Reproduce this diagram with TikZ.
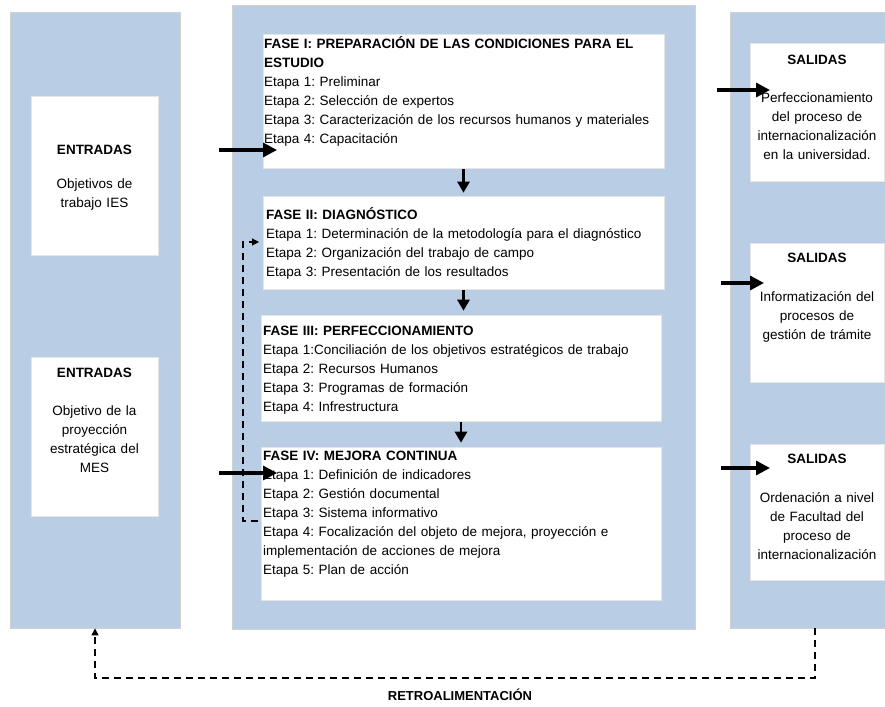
\documentclass[tikz,border=0pt]{standalone}
\usepackage{fontspec}
\setmainfont{Liberation Sans}
\usetikzlibrary{arrows.meta}
\definecolor{colblue}{HTML}{B9CDE5}
\frenchspacing
\begin{document}
\begin{tikzpicture}[x=1pt,y=-1pt,
 every node/.style={font=\fontsize{13.5}{19}\selectfont, inner sep=0pt},
 col/.style={draw=black!18, line width=0.8pt, fill=colblue, rectangle},
 wbox/.style={fill=white, draw=white!90!black, line width=0.6pt, rectangle},
 ftext/.style={anchor=base west, text width=398pt, align=left},
 ctext/.style={anchor=base, text width=150pt, align=center},
 bigarr/.style={line width=3.2pt, -{Triangle[length=14pt,width=14pt]}},
 darr/.style={line width=2.6pt, -{Triangle[length=11pt,width=12pt]}},
 dasharr/.style={line width=1.1pt, dash pattern=on 7pt off 5pt, -{Triangle[length=7pt,width=7pt]}}
]
\useasboundingbox (0,0) rectangle (885,706);

% columns
\node[col, minimum width=170pt, minimum height=616pt] (lcol) at (95,320) {};
\node[col, minimum width=463pt, minimum height=624pt] (mcol) at (463.5,317) {};
\node[col, minimum width=155pt, minimum height=616pt] (rcol) at (807.5,320) {};

% white boxes
\node[wbox, minimum width=127pt, minimum height=159pt] (e1) at (94.5,175.5) {};
\node[wbox, minimum width=127pt, minimum height=159pt] (e2) at (94.5,436.5) {};
\node[wbox, minimum width=401pt, minimum height=134pt] (f1) at (463.5,101) {};
\node[wbox, minimum width=401pt, minimum height=93pt] (f2) at (463.5,242.5) {};
\node[wbox, minimum width=400pt, minimum height=106pt] (f3) at (461,368) {};
\node[wbox, minimum width=400pt, minimum height=153pt] (f4) at (461,523.5) {};
\node[wbox, minimum width=134pt, minimum height=138pt] (s1) at (817,112) {};
\node[wbox, minimum width=134pt, minimum height=139pt] (s2) at (817,312.5) {};
\node[wbox, minimum width=134pt, minimum height=136pt] (s3) at (817,512) {};

% texts
\node[ctext] (e1t) at (94.5,154) {\textbf{ENTRADAS}\\[15pt]Objetivos de\\trabajo IES};
\node[ctext] (e2t) at (94.5,377) {\textbf{ENTRADAS}\\[19pt]Objetivo de la\\proyección\\estratégica del\\MES};

\node[ftext] (f1t) at (264,49) {\textbf{FASE I: PREPARACIÓN DE LAS CONDICIONES PARA EL}\\\textbf{ESTUDIO}\\Etapa 1: Preliminar\\Etapa 2: Selección de expertos\\Etapa 3: Caracterización de los recursos humanos y materiales\\Etapa 4: Capacitación};
\node[ftext] (f2t) at (266,219) {\textbf{FASE II: DIAGNÓSTICO}\\Etapa 1: Determinación de la metodología para el diagnóstico\\Etapa 2: Organización del trabajo de campo\\Etapa 3: Presentación de los resultados};
\node[ftext] (f3t) at (263,335) {\textbf{FASE III: PERFECCIONAMIENTO}\\Etapa 1:Conciliación de los objetivos estratégicos de trabajo\\Etapa 2: Recursos Humanos\\Etapa 3: Programas de formación\\Etapa 4: Infrestructura};
\node[ftext] (f4t) at (263,460) {\textbf{FASE IV: MEJORA CONTINUA}\\Etapa 1: Definición de indicadores\\Etapa 2: Gestión documental\\Etapa 3: Sistema informativo\\Etapa 4: Focalización del objeto de mejora, proyección e\\implementación de acciones de mejora\\Etapa 5: Plan de acción};

\node[ctext] (s1t) at (817,65) {\textbf{SALIDAS}\\[19pt]Perfeccionamiento\\del proceso de\\internacionalización\\en la universidad.};
\node[ctext] (s2t) at (817,262) {\textbf{SALIDAS}\\[20pt]Informatización del\\procesos de\\gestión de trámite};
\node[ctext] (s3t) at (817,463) {\textbf{SALIDAS}\\[20pt]Ordenación a nivel\\de Facultad del\\proceso de\\internacionalización};

\node[font=\fontsize{13}{16}\selectfont\bfseries] (fbl) at (460,695) {RETROALIMENTACIÓN};

% input arrows
\coordinate (i1a) at (219,150); \coordinate (i1b) at (277,150);
\coordinate (i2a) at (219,473); \coordinate (i2b) at (277,473);
\draw[bigarr] (i1a) -- (i1b);
\draw[bigarr] (i2a) -- (i2b);

% output arrows
\coordinate (o1a) at (717,90); \coordinate (o1b) at (770,90);
\coordinate (o2a) at (721,283); \coordinate (o2b) at (764,283);
\coordinate (o3a) at (721,468); \coordinate (o3b) at (770,468);
\draw[bigarr] (o1a) -- (o1b);
\draw[bigarr] (o2a) -- (o2b);
\draw[bigarr] (o3a) -- (o3b);

% phase arrows
\draw[darr, shorten <=1pt, shorten >=3pt] (f1.south) -- (f1.south |- f2.north);
\draw[darr, shorten <=1pt, shorten >=4pt] (f2.south) -- (f2.south |- f3.north);
\draw[darr, shorten <=1pt, shorten >=4pt] (f3.south) -- (f3.south |- f4.north);

% inner dashed loop
\coordinate (dl0) at (258,521);
\coordinate (dl1) at (243,242);
\coordinate (dl2) at (259,242);
\draw[dasharr] (dl0) -| (dl1) -- (dl2);

% feedback
\coordinate (fb) at (815,678);
\draw[dasharr] (rcol.south -| fb) -- (fb) -| (lcol.south);
\end{tikzpicture}
\end{document}
